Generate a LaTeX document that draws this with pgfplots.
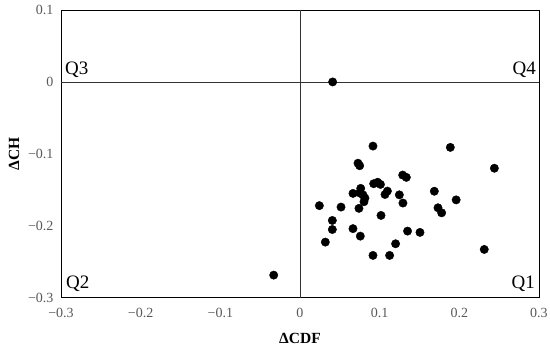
\documentclass[border=0pt]{standalone}
\usepackage{pgfplots}
\pgfplotsset{compat=1.18}
\usepackage{fontspec}
\setmainfont{Liberation Serif}
\begin{document}
\begin{tikzpicture}
\path[use as bounding box] (-61pt,-50.3pt) rectangle (489pt,297.7pt);
\begin{axis}[
  scale only axis, width=478pt, height=287.7pt,
  xmin=-0.3, xmax=0.3, ymin=-0.3, ymax=0.1,
  xtick={-0.3,-0.2,-0.1,0,0.1,0.2,0.3},
  xticklabels={−0.3,−0.2,−0.1,0,0.1,0.2,0.3},
  ytick={-0.3,-0.2,-0.1,0,0.1},
  yticklabels={−0.3,−0.2,−0.1,0,0.1},
  major tick length=0pt,
  tick label style={font=\fontsize{14}{16}\selectfont, text=black!65},
  xticklabel style={yshift=-7pt},
  yticklabel style={xshift=-4pt},
  axis line style={line width=0.8pt},
  clip=false,
]
\draw[black!80, line width=0.7pt] (axis cs:0,-0.3) -- (axis cs:0,0.1);
\draw[black!80, line width=0.7pt] (axis cs:-0.3,0) -- (axis cs:0.3,0);
\addplot[only marks, mark=*, mark size=4.2pt, black] coordinates {
(0.0916,-0.0892) (0.1887,-0.091) (0.244,-0.120) (0.0728,-0.113) (0.0749,-0.1165)
(0.1289,-0.1295) (0.1335,-0.1327) (0.0925,-0.1415) (0.0975,-0.1395) (0.101,-0.1425)
(0.0762,-0.148) (0.0665,-0.155) (0.079,-0.157) (0.1097,-0.1518) (0.1067,-0.1565)
(0.1247,-0.157) (0.1686,-0.152) (0.196,-0.164) (0.0243,-0.172) (0.0515,-0.174)
(0.0803,-0.1666) (0.074,-0.1758) (0.1292,-0.1684) (0.1732,-0.175) (0.1778,-0.182)
(0.1017,-0.1856) (0.0406,-0.1926) (0.0406,-0.2052) (0.0665,-0.204) (0.0757,-0.2144)
(0.0318,-0.2227) (0.135,-0.2074) (0.1506,-0.2092) (0.120,-0.225) (0.2313,-0.2329)
(0.0916,-0.2412) (0.1125,-0.2412) (0.041,0.0) (-0.033,-0.2686)
(0.0748,-0.1543) (0.0815,-0.1615)
};
\node[anchor=base west, font=\fontsize{19}{22}\selectfont, inner sep=0pt] at (axis cs:-0.3,0) [xshift=4pt, yshift=7pt] {Q3};
\node[anchor=base east, font=\fontsize{19}{22}\selectfont, inner sep=0pt] at (axis cs:0.3,0) [xshift=-3pt, yshift=7pt] {Q4};
\node[anchor=base west, font=\fontsize{19}{22}\selectfont, inner sep=0pt] at (axis cs:-0.3,-0.3) [xshift=5pt, yshift=9pt] {Q2};
\node[anchor=base east, font=\fontsize{19}{22}\selectfont, inner sep=0pt] at (axis cs:0.3,-0.3) [xshift=-4pt, yshift=9pt] {Q1};
\node[font=\bfseries\fontsize{15.5}{18}\selectfont] at (axis description cs:0.5,-0.1425) {ΔCDF};
\node[font=\bfseries\fontsize{15.5}{18}\selectfont, rotate=90] at (axis description cs:-0.0983,0.5) {ΔCH};
\end{axis}
\end{tikzpicture}
\end{document}
